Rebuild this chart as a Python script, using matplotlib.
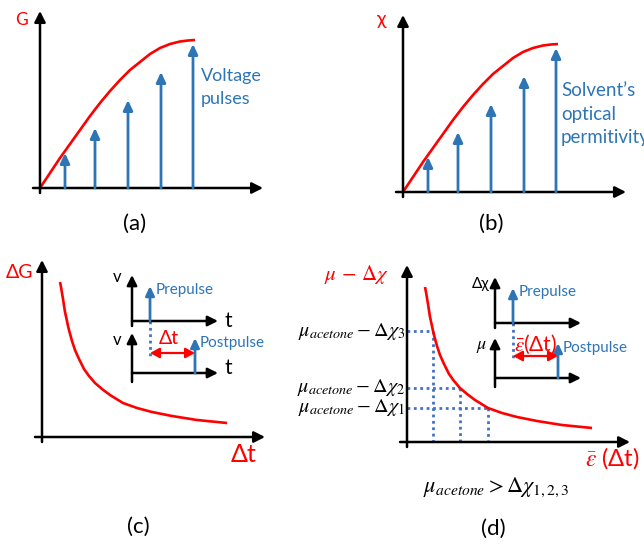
import matplotlib.pyplot as plt

plt.rcParams['font.family'] = ['Lato', 'DejaVu Sans']
plt.rcParams['mathtext.fontset'] = 'stix'

RED = '#FF0000'
BLUE = '#2E75B6'
DOT_BLUE = '#4472C4'

# pulse train under the saturating curves of (a) and (b)
pulse_x = [25, 55, 88, 121, 153]
pulse_h = [35, 60, 88, 116, 144]

# saturating response (G, chi) vs pulse number
growth_x = [0, 10, 20, 30, 40, 50, 60, 70, 80, 90, 100, 110, 120, 130, 140, 148, 155]
growth_y = [0, 15, 30, 44, 58, 72, 85, 97, 108, 118, 126, 134, 140, 144, 146.5, 147.5, 148]

# decay with pulse separation, (c) and (d)
decay_x = [18, 19, 20, 21, 23, 25, 26, 27, 30, 33, 37, 42, 47, 53, 60, 68, 81,
           95, 110, 130, 155, 185]
decay_y = [155, 150, 144, 138, 125, 116, 111, 107, 96, 87, 78, 68, 61, 54, 48,
           42, 34, 29, 25, 21, 17, 14]

# read-out levels on the (d) curve
level_x = [81, 53, 26]
level_y = [34, 54, 111]
level_labels = [r'$\mu_{acetone} - \Delta\chi_{1}$',
                r'$\mu_{acetone} - \Delta\chi_{2}$',
                r'$\mu_{acetone} - \Delta\chi_{3}$']

# prepulse / postpulse positions and height in the insets
inset_pulse_x = [18, 63]
inset_pulse_h = 35

fig = plt.figure(figsize=(6.44, 5.47), dpi=100)
ax = fig.add_axes([0, 0, 1, 1])
ax.set_xlim(0, 644)
ax.set_ylim(547, 0)
ax.axis('off')

DOTS = (0, (1, 1.3))


def arrow(p0, p1, color='black', lw=1.8, hl=0.65, hw=0.33, style='-|>'):
    ax.annotate('', xy=p1, xytext=p0,
                arrowprops=dict(arrowstyle=f'{style},head_length={hl},head_width={hw}',
                                color=color, lw=lw, shrinkA=0, shrinkB=0,
                                mutation_scale=10))


def main_axes(ox, oy):
    arrow((ox, oy + 5), (ox, oy - 177))
    arrow((ox - 7, oy), (ox + 223, oy))


def curve(ox, oy, xs, ys):
    ax.plot([ox + x for x in xs], [oy - y for y in ys], color=RED, lw=1.9,
            solid_capstyle='butt', solid_joinstyle='round')


def growth_panel(ox, oy):
    main_axes(ox, oy)
    for x, h in zip(pulse_x, pulse_h):
        arrow((ox + x, oy), (ox + x, oy - h), color=BLUE, lw=2.0, hl=0.6, hw=0.28)
    curve(ox, oy, growth_x, growth_y)


def pulse_inset(ox, top, bot, dt_label, dt_y, dt_size, dt_dx):
    # upper: prepulse
    arrow((ox, top + 5), (ox, top - 46), lw=1.8, hl=0.6, hw=0.3)
    arrow((ox, top), (ox + 86, top), lw=1.8, hl=0.6, hw=0.3)
    # lower: postpulse
    arrow((ox, bot + 9), (ox, bot - 40), lw=1.8, hl=0.6, hw=0.3)
    arrow((ox, bot), (ox + 86, bot), lw=1.8, hl=0.6, hw=0.3)
    x_pre, x_post = inset_pulse_x
    arrow((ox + x_pre, top), (ox + x_pre, top - inset_pulse_h), color=BLUE,
          lw=2.0, hl=0.55, hw=0.26)
    arrow((ox + x_post, bot), (ox + x_post, bot - inset_pulse_h), color=BLUE,
          lw=2.0, hl=0.55, hw=0.26)
    ax.plot([ox + x_pre, ox + x_pre], [top, top + 35], color=DOT_BLUE, lw=2,
            ls=DOTS)
    arrow((ox + x_pre, bot - dt_y), (ox + x_post, bot - dt_y), color=RED,
          lw=1.6, hl=0.55, hw=0.3, style='<|-|>')
    ax.text(ox + x_pre + 6, top - 31, 'Prepulse', color=BLUE, fontsize=11,
            ha='left', va='center')
    ax.text(ox + x_post + 5, bot - 30, 'Postpulse', color=BLUE, fontsize=11,
            ha='left', va='center')
    ax.text(ox + (x_pre + x_post) / 2 + dt_dx, bot - 34, dt_label, color=RED,
            fontsize=dt_size, ha='center', va='center')


# (a) conductance vs voltage pulses
growth_panel(40, 188)
ax.text(22, 20, 'G', color=RED, fontsize=12.5, ha='center', va='center')
ax.text(201, 76, 'Voltage', color=BLUE, fontsize=13, ha='left', va='center')
ax.text(201, 99, 'pulses', color=BLUE, fontsize=13, ha='left', va='center')
ax.text(135, 224, '(a)', fontsize=16, ha='center', va='center')

# (b) susceptibility vs solvent permitivity
growth_panel(403, 192)
ax.text(382, 19, 'χ', color=RED, fontsize=14, ha='center', va='center')
for i, line in enumerate(['Solvent\u2019s', 'optical', 'permitivity']):
    ax.text(561, 91 + 23.5 * i, line, color=BLUE, fontsize=13.5, ha='left',
            va='center')
ax.text(491, 224, '(b)', fontsize=16, ha='center', va='center')

# (c) paired-pulse change vs pulse separation
main_axes(42, 437)
curve(42, 437, decay_x, decay_y)
ax.text(20, 272, 'ΔG', color=RED, fontsize=14, ha='center', va='center')
ax.text(244, 455, 'Δt', color=RED, fontsize=18, ha='center', va='center')
pulse_inset(132, 321, 373, 'Δt', 20, 14, -4)
ax.text(117, 277, 'v', fontsize=12, ha='center', va='center')
ax.text(117, 340, 'v', fontsize=12, ha='center', va='center')
ax.text(228, 321, 't', fontsize=15, ha='center', va='center')
ax.text(228, 368, 't', fontsize=15, ha='center', va='center')
ax.text(138, 527, '(c)', fontsize=16, ha='center', va='center')

# (d) optical analogue with acetone read-out levels
ox, oy = 407, 442
for x, y, lab in zip(level_x, level_y, level_labels):
    ax.plot([ox, ox + x], [oy - y, oy - y], color=DOT_BLUE, lw=2, ls=DOTS)
    ax.plot([ox + x, ox + x], [oy - y, oy], color=DOT_BLUE, lw=2, ls=DOTS)
    ax.text(ox - 2, oy - y, lab, fontsize=14.5, ha='right', va='center')
main_axes(ox, oy)
curve(ox, oy, decay_x, decay_y)
ax.text(356, 275, r'$\mu\,-\,\Delta\chi$', color=RED, fontsize=15,
        ha='center', va='center')
ax.text(612, 458, r'$\bar{\varepsilon}$ (Δt)', color=RED, fontsize=17,
        ha='center', va='center')
ax.text(496, 487, r'$\mu_{acetone} > \Delta\chi_{1,2,3}$', fontsize=16,
        ha='center', va='center')
pulse_inset(495, 323, 378, r'$\bar{\varepsilon}$(Δt)', 22, 15, 0)
ax.text(481, 284, 'Δχ', fontsize=11, ha='center', va='center')
ax.text(482, 347, r'$\mu$', fontsize=13, ha='center', va='center')
ax.text(493, 529, '(d)', fontsize=16, ha='center', va='center')

fig.savefig('out.png', dpi=100)
